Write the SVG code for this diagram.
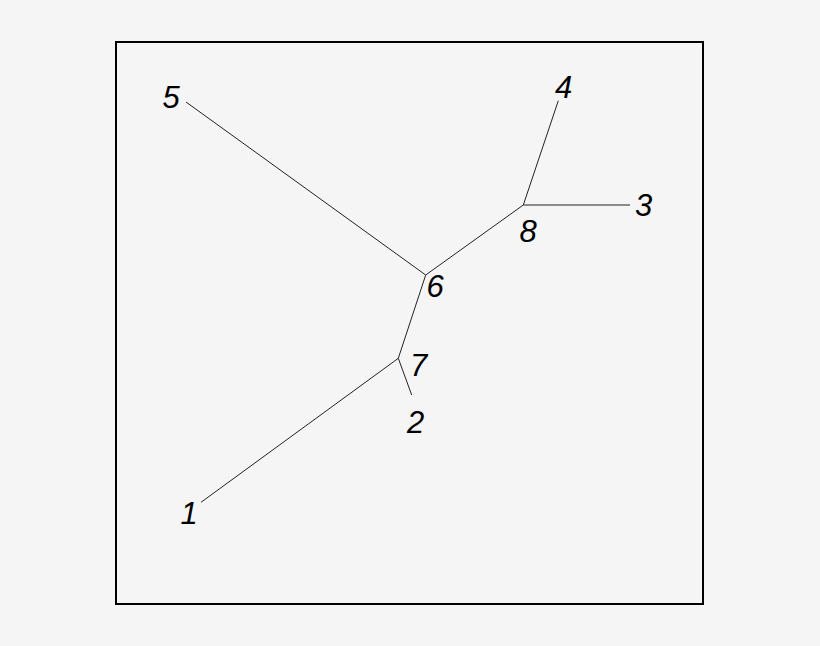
<svg xmlns="http://www.w3.org/2000/svg" width="820" height="646" viewBox="0 0 820 646">
<style>
.edge{stroke:#222;stroke-width:1;fill:none}
.lbl{font-family:"Liberation Sans",Arial,sans-serif;font-style:italic;font-size:31px;fill:#000;text-anchor:middle}
</style>
<rect x="0" y="0" width="820" height="646" fill="#f5f5f5"/>
<rect x="116" y="42" width="587" height="562" fill="none" stroke="#000" stroke-width="2"/>
<g id="connectors">
<line class="edge" x1="425.7" y1="275" x2="186" y2="102"/>
<line class="edge" x1="425.7" y1="275" x2="523.3" y2="205"/>
<line class="edge" x1="425.7" y1="275" x2="398.3" y2="358.3"/>
<line class="edge" x1="523.3" y1="205" x2="558.3" y2="100.7"/>
<line class="edge" x1="523.3" y1="205" x2="630" y2="205"/>
<line class="edge" x1="398.3" y1="358.3" x2="411.7" y2="395"/>
<line class="edge" x1="398.3" y1="358.3" x2="201" y2="502.3"/>
</g>
<g id="n1"><text class="lbl" x="189" y="524">1</text></g>
<g id="n2"><text class="lbl" x="415.5" y="432.5">2</text></g>
<g id="n3"><text class="lbl" x="643.5" y="215.5">3</text></g>
<g id="n4"><text class="lbl" x="563.5" y="98">4</text></g>
<g id="n5"><text class="lbl" x="171" y="108">5</text></g>
<g id="n6"><text class="lbl" x="435" y="297">6</text></g>
<g id="n7"><text class="lbl" x="418.5" y="375.5">7</text></g>
<g id="n8"><text class="lbl" x="528" y="241.5">8</text></g>
</svg>
